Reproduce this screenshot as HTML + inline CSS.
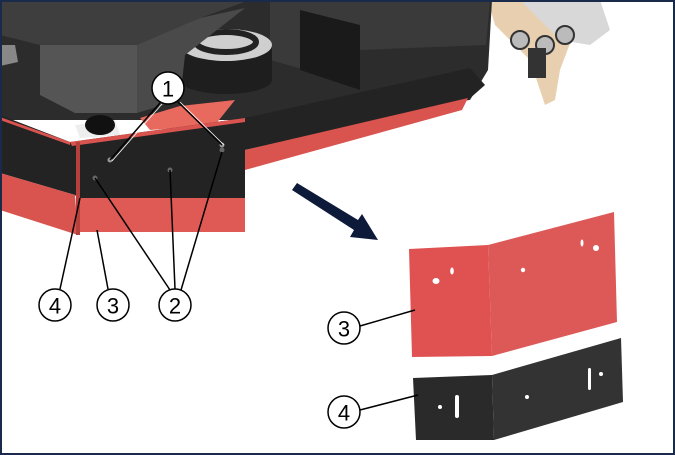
<!DOCTYPE html>
<html><head><style>
html,body{margin:0;padding:0;background:#fff;}
svg{display:block;}
text{font-family:"Liberation Sans",sans-serif;font-size:22px;text-anchor:middle;dominant-baseline:central;fill:#000;}
</style></head><body>
<svg width="675" height="455" viewBox="0 0 675 455" xmlns="http://www.w3.org/2000/svg">
<rect x="0" y="0" width="675" height="455" fill="#fff"/>
<!-- top right attachment -->
<polygon points="488,0 530,0 575,30 560,70 555,100 545,105 530,60 495,25" fill="#e8cfb0"/>
<polygon points="520,0 600,0 610,30 590,45 560,40" fill="#d8d8d8"/>
<circle cx="520" cy="40" r="9" fill="#bbb" stroke="#333" stroke-width="2"/>
<circle cx="545" cy="45" r="9" fill="#bbb" stroke="#333" stroke-width="2"/>
<circle cx="565" cy="35" r="9" fill="#bbb" stroke="#333" stroke-width="2"/>
<rect x="528" y="48" width="18" height="30" fill="#333"/>
<!-- dark body back -->
<polygon points="0,0 492,0 488,70 470,100 250,120 0,120" fill="#2c2c2c"/>
<polygon points="270,0 490,0 486,45 360,50 360,85 270,60" fill="#3a3a3a"/>
<polygon points="300,10 360,25 360,90 300,70" fill="#1a1a1a"/>
<!-- motor -->
<rect x="180" y="45" width="92" height="35" fill="#1e1e1e"/>
<ellipse cx="226" cy="80" rx="46" ry="14" fill="#1e1e1e"/>
<ellipse cx="226" cy="45" rx="46" ry="16" fill="#cfcfcf"/>
<ellipse cx="226" cy="42" rx="30" ry="10" fill="none" stroke="#222" stroke-width="6"/>
<!-- hood -->
<polygon points="0,0 250,0 200,18 140,45 40,45 0,35" fill="#3e3e3e"/>
<polygon points="40,45 137,45 137,113 75,113 40,95" fill="#555"/>
<polygon points="137,45 200,18 245,8 185,55 180,100 137,113" fill="#4a4a4a"/>
<polygon points="0,45 15,45 18,62 0,66" fill="#888"/>
<!-- brush -->
<polygon points="140,118 180,106 235,100 215,125 150,130" fill="#e86a5e"/>
<polygon points="75,125 115,120 120,135 80,138" fill="#eee"/>
<ellipse cx="100" cy="125" rx="15" ry="10" fill="#111"/>
<!-- black skirt -->
<polygon points="0,115 70,142 245,118 470,68 485,85 468,100 245,150 245,198 78,198 75,195 0,173" fill="#232323"/>
<polygon points="70,142 245,118 245,122 72,146" fill="#d9534f"/>
<polygon points="0,117 70,142 70,145 0,120" fill="#d9534f"/>
<!-- red lower -->
<polygon points="0,173 75,195 78,235 0,210" fill="#d9534f"/>
<polygon points="78,198 245,198 245,232 78,232" fill="#e05a55"/>
<polygon points="245,150 468,98 462,110 245,170" fill="#d9534f"/>
<rect x="76" y="142" width="4" height="93" fill="#b5403c"/>
<!-- holes -->
<circle cx="95" cy="178" r="2.5" fill="#666"/>
<circle cx="170" cy="170" r="2.5" fill="#666"/>
<circle cx="222" cy="150" r="2.5" fill="#666"/>
<circle cx="110" cy="160" r="2.5" fill="#999"/>
<circle cx="222" cy="145" r="2.5" fill="#999"/>
<!-- arrow -->
<polygon points="292,190 297,183 358,220 362,214 378,240 350,237 354,230" fill="#0d1a3a"/>
<!-- red bracket -->
<polygon points="409,249 488,245 492,356 412,357" fill="#e05252"/>
<polygon points="488,245 614,212 617,322 492,356" fill="#dd5957"/>
<ellipse cx="436" cy="281" rx="3.5" ry="3" fill="#fff"/><ellipse cx="452" cy="271" rx="1.8" ry="3.5" fill="#fff"/>
<circle cx="523" cy="270" r="2.2" fill="#fff"/><ellipse cx="582" cy="243" rx="1.5" ry="3.5" fill="#fff"/><circle cx="596" cy="248" r="3" fill="#fff"/>
<!-- black bracket -->
<polygon points="413,378 492,375 494,440 416,440" fill="#2a2a2a"/>
<polygon points="492,375 621,338 623,402 494,440" fill="#333"/>
<rect x="455" y="395" width="4" height="23" rx="2" fill="#fff"/><circle cx="440" cy="407" r="2" fill="#fff"/>
<circle cx="527" cy="397" r="2" fill="#fff"/><rect x="588" y="368" width="3" height="22" rx="1.5" fill="#fff"/><circle cx="601" cy="374" r="2" fill="#fff"/>
<!-- leaders -->
<g stroke="#000" stroke-width="1.5" fill="none">
<line x1="160" y1="103" x2="110" y2="160"/><line x1="178" y1="102" x2="222" y2="145"/>
<line x1="170" y1="290" x2="95" y2="178"/><line x1="175" y1="289" x2="170" y2="170"/><line x1="181" y1="290" x2="222" y2="152"/>
<line x1="60" y1="289" x2="80" y2="198"/><line x1="108" y1="289" x2="97" y2="230"/>
<line x1="360" y1="326" x2="415" y2="310"/><line x1="360" y1="410" x2="418" y2="395"/>
</g>
<g stroke="#fff" stroke-width="0.8" fill="none">
<line x1="162" y1="104" x2="112" y2="161"/><line x1="180" y1="102" x2="224" y2="145"/>
</g>
<g fill="#fff" stroke="#000" stroke-width="1.5">
<circle cx="168" cy="88" r="16"/><circle cx="175" cy="305" r="16"/><circle cx="113" cy="305" r="16"/>
<circle cx="55" cy="305" r="16"/><circle cx="344" cy="328" r="16"/><circle cx="344" cy="412" r="16"/>
</g>
<text x="168" y="89">1</text><text x="175" y="306">2</text><text x="113" y="306">3</text>
<text x="55" y="306">4</text><text x="344" y="329">3</text><text x="344" y="413">4</text>
<rect x="1" y="1" width="673" height="453" fill="none" stroke="#1a2a4a" stroke-width="2"/>
</svg>
</body></html>
